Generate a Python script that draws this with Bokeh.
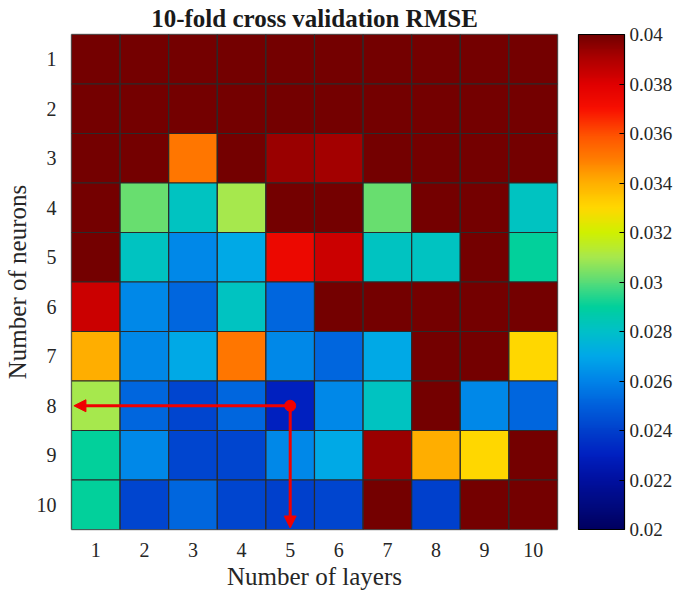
import numpy as np
from bokeh.plotting import figure
from bokeh.models import (ColumnDataSource, LinearColorMapper, ColorBar, FixedTicker,
                          Range1d, Arrow, NormalHead)
from bokeh.embed import file_html
from bokeh.resources import INLINE

# ---------------- data ----------------
layers = list(range(1, 11))
neurons = list(range(1, 11))
DR = 0.041  # saturated (>= 0.04)
rmse_rows = [
    [DR, DR, DR, DR, DR, DR, DR, DR, DR, DR],                                  # 1 neuron
    [DR, DR, DR, DR, DR, DR, DR, DR, DR, DR],                                  # 2
    [DR, DR, 0.0351, DR, 0.0393, 0.0392, DR, DR, DR, DR],                      # 3
    [DR, 0.0302, 0.0282, 0.0310, DR, DR, 0.0302, DR, DR, 0.0282],              # 4
    [DR, 0.0282, 0.0261, 0.0271, 0.0375, 0.0384, 0.0282, 0.0282, DR, 0.0290],  # 5
    [0.0384, 0.0261, 0.0252, 0.0282, 0.0252, DR, DR, DR, DR, DR],              # 6
    [0.0340, 0.0261, 0.0271, 0.0351, 0.0261, 0.0252, 0.0271, DR, DR, 0.0330],  # 7
    [0.0310, 0.0252, 0.0242, 0.0252, 0.0230, 0.0261, 0.0282, DR, 0.0261, 0.0252],  # 8
    [0.0290, 0.0261, 0.0242, 0.0242, 0.0261, 0.0271, 0.0393, 0.0340, 0.0330, DR],  # 9
    [0.0290, 0.0242, 0.0252, 0.0242, 0.0240, 0.0242, DR, 0.0240, DR, DR],      # 10
]
best_layer = 5
best_neuron = 8
cbar_ticks = [0.02, 0.022, 0.024, 0.026, 0.028, 0.03, 0.032, 0.034, 0.036, 0.038, 0.04]

# ---------------- colormap (jet-like, sampled from the colour bar) ----------------
anchor_vals = [0.020, 0.021, 0.022, 0.023, 0.024, 0.025, 0.026, 0.027, 0.028, 0.029, 0.030,
               0.031, 0.032, 0.033, 0.034, 0.035, 0.036, 0.037, 0.038, 0.039, 0.040]
anchor_cols = ["#000060", "#000A80", "#0010A0", "#0020C0", "#0040CC", "#0060DC", "#0084E8",
               "#00A8E8", "#00C0C8", "#00D09C", "#58DC78", "#A8E84C", "#D0F000", "#FFD800",
               "#FFB000", "#FF7C00", "#FF5000", "#F81000", "#E00000", "#B00000", "#740000"]

def hex2rgb(h):
    return [int(h[i:i + 2], 16) for i in (1, 3, 5)]

rgb = np.array([hex2rgb(c) for c in anchor_cols], dtype=float)
vs = np.linspace(0.02, 0.04, 256)
palette = []
for v in vs:
    r = np.interp(v, anchor_vals, rgb[:, 0])
    g = np.interp(v, anchor_vals, rgb[:, 1])
    b = np.interp(v, anchor_vals, rgb[:, 2])
    palette.append("#%02x%02x%02x" % (int(round(r)), int(round(g)), int(round(b))))

mapper = LinearColorMapper(palette=palette, low=0.02, high=0.04,
                           high_color="#740000", low_color="#000060")

xs, ys, vals = [], [], []
for i, n in enumerate(neurons):
    for j, l in enumerate(layers):
        xs.append(l)
        ys.append(n)
        vals.append(rmse_rows[i][j])
src = ColumnDataSource(dict(x=xs, y=ys, v=vals))

SERIF = "Liberation Serif"

p = figure(width=662, height=580, output_backend="svg", toolbar_location=None,
           x_range=Range1d(0.5, 10.5), y_range=Range1d(10.5, 0.5),
           frame_width=486, frame_height=495,
           min_border_left=61, min_border_right=0, min_border_top=0, min_border_bottom=0,
           title="10-fold cross validation RMSE")

p.rect(x="x", y="y", width=1, height=1, source=src,
       fill_color={"field": "v", "transform": mapper},
       line_color="#2a2a2a", line_width=1.2)

# red arrows marking the optimum
p.add_layout(Arrow(end=NormalHead(size=12, line_color="#f00000", fill_color="#f00000"),
                   x_start=best_layer, y_start=best_neuron, x_end=0.55, y_end=best_neuron,
                   line_color="#f00000", line_width=3))
p.add_layout(Arrow(end=NormalHead(size=12, line_color="#f00000", fill_color="#f00000"),
                   x_start=best_layer, y_start=best_neuron, x_end=best_layer, y_end=10.47,
                   line_color="#f00000", line_width=3))
p.scatter([best_layer], [best_neuron], size=11, color="#f00000")

p.title.align = "center"
p.title.text_font = SERIF
p.title.text_font_size = "25px"
p.title.text_font_style = "bold"
p.title.text_color = "#1a1a1a"
p.title.standoff = 5
p.title.offset = 0

p.grid.visible = False
p.outline_line_color = "#808080"
p.outline_line_width = 1.5

for ax in (p.xaxis, p.yaxis):
    ax.ticker = FixedTicker(ticks=layers)
    ax.axis_line_color = None
    ax.major_tick_line_color = None
    ax.minor_tick_line_color = None
    ax.major_label_text_font = SERIF
    ax.major_label_text_font_size = "20px"
    ax.major_label_text_color = "#262626"
    ax.axis_label_text_font = SERIF
    ax.axis_label_text_font_size = "25px"
    ax.axis_label_text_font_style = "normal"
    ax.axis_label_text_color = "#262626"

p.xaxis.axis_label = "Number of layers"
p.yaxis.axis_label = "Number of neurons"
p.xaxis.major_label_standoff = 7
p.yaxis.major_label_standoff = 9
p.xaxis.axis_label_standoff = 3
p.yaxis.axis_label_standoff = 3

cb = ColorBar(color_mapper=mapper, ticker=FixedTicker(ticks=cbar_ticks),
              width=46, height=495, padding=0, margin=0,
              bar_line_color="#000000", bar_line_width=1.2,
              major_tick_line_color="#000000", major_tick_in=5, major_tick_out=0,
              minor_tick_line_color=None,
              major_label_text_font=SERIF, major_label_text_font_size="19px",
              major_label_text_color="#262626", label_standoff=5,
              location=(21, 0))
p.add_layout(cb, "right")

open("out.html", "w").write(file_html(p, INLINE))
